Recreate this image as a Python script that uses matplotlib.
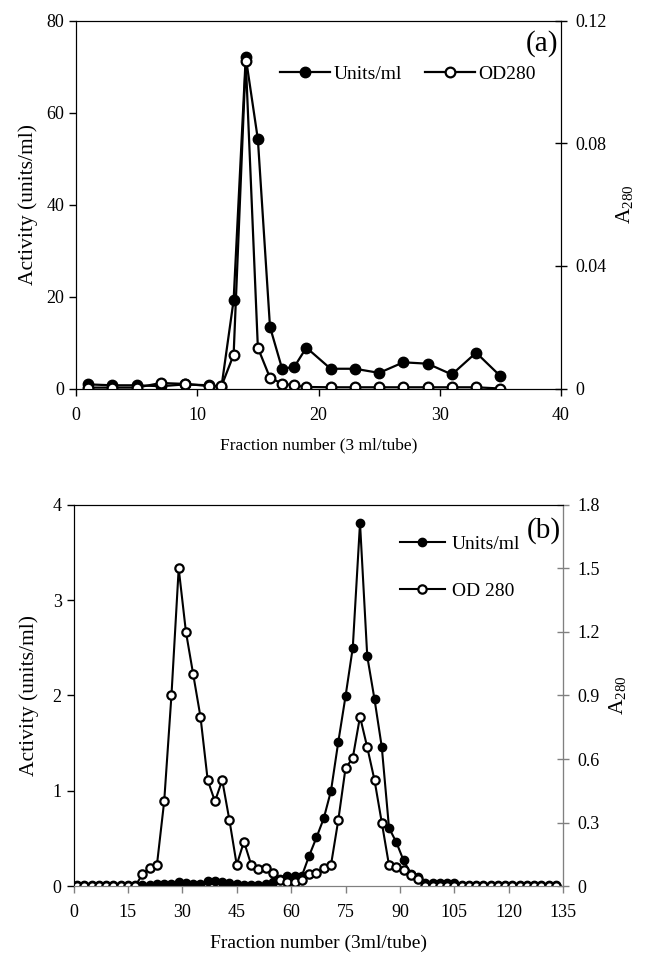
import matplotlib
matplotlib.use("Agg")
import matplotlib.pyplot as plt
import numpy as np

plt.rcParams['font.family'] = ['Liberation Serif', 'DejaVu Serif']
plt.rcParams['mathtext.fontset'] = 'custom'
plt.rcParams['mathtext.rm'] = 'Liberation Serif'

# ---------- Panel (a) data ----------
a_frac = [1, 3, 5, 7, 9, 11, 12, 13, 14, 15, 16, 17, 18, 19, 21, 23, 25, 27, 29, 31, 33, 35]
a_units = [0.9, 0.7, 0.7, 0.5, 0.9, 0.7, 0.4, 19.2, 72.1, 54.2, 13.4, 4.3, 4.7, 8.9,
           4.3, 4.3, 3.4, 5.7, 5.4, 3.05, 7.8, 2.7]
a_od = [0.0003, 0.0003, 0.0003, 0.0018, 0.0015, 0.0008, 0.0008, 0.011, 0.107, 0.0133,
        0.0035, 0.0016, 0.0010, 0.0005, 0.0004, 0.0004, 0.0004, 0.0004, 0.0004, 0.0004,
        0.0004, 0.0]
a_xticks = [0, 10, 20, 30, 40]
a_yticks = [0, 20, 40, 60, 80]
a_y2ticks = [0, 0.04, 0.08, 0.12]
a_y2labels = ['0', '0.04', '0.08', '0.12']

# ---------- Panel (b) data ----------
b_frac = list(range(1, 134, 2))
b_units = ([0.01] * 9 +                        # 1-17
           [0.01, 0.01, 0.02, 0.02, 0.02,       # 19-27
            0.04, 0.03, 0.02, 0.02, 0.05, 0.05, 0.04, 0.03, 0.02,  # 29-45
            0.01, 0.01, 0.01, 0.02, 0.04, 0.07, 0.10, 0.11, 0.11,  # 47-63
            0.32, 0.51, 0.71, 1.0, 1.51, 1.99, 2.5, 3.81, 2.41,    # 65-81
            1.96, 1.46, 0.61, 0.46, 0.27, 0.13, 0.095,              # 83-95
            0.03, 0.03, 0.03, 0.03, 0.03] +                        # 97-105
           [0.01] * 14)                                             # 107-133
b_od = ([0.0] * 9 +                             # 1-17
        [0.055, 0.087, 0.10, 0.40, 0.90, 1.50, 1.20, 1.00, 0.80,  # 19-35
         0.50, 0.40, 0.50, 0.31, 0.10, 0.21, 0.10, 0.08, 0.087,   # 37-53
         0.063, 0.03, 0.02, 0.02, 0.03, 0.055, 0.063, 0.087, 0.10,  # 55-71
         0.31, 0.556, 0.605, 0.80, 0.655, 0.50, 0.30, 0.098, 0.09,  # 73-89
         0.074, 0.05, 0.035] +                                       # 91-95
        [0.0] * 19)                                                  # 97-133
b_xticks = list(range(0, 136, 15))
b_yticks = [0, 1, 2, 3, 4]
b_y2ticks = [0, 0.3, 0.6, 0.9, 1.2, 1.5, 1.8]
b_y2labels = ['0', '0.3', '0.6', '0.9', '1.2', '1.5', '1.8']

FS = 13
YFS = 15.5
LFS = 14

fig = plt.figure(figsize=(6.45, 9.56), dpi=100)

# ---------- Panel (a) ----------
ax = fig.add_axes([0.1178, 0.5936, 0.752, 0.3847])
ax2 = ax.twinx()
l1, = ax.plot(a_frac, a_units, '-', color='black', lw=1.6, marker='o', ms=7.5,
              mfc='black', mec='black', label='Units/ml', zorder=3)
l2, = ax2.plot(a_frac, a_od, '-', color='black', lw=1.6, marker='o', ms=7,
               mfc='white', mec='black', mew=1.6, label='OD280', zorder=2)
ax.set_xlim(0, 40)
ax.set_ylim(0, 80)
ax2.set_ylim(0, 0.12)
ax.set_xticks(a_xticks)
ax.set_yticks(a_yticks)
ax2.set_yticks(a_y2ticks)
ax2.set_yticklabels(a_y2labels)
ax.set_xlabel('Fraction number (3 ml/tube)', fontsize=12.5, labelpad=10)
ax.set_ylabel('Activity (units/ml)', fontsize=YFS, labelpad=6)
ax2.set_ylabel('A$_{280}$', fontsize=YFS, labelpad=6)
ax.tick_params(axis='both', labelsize=FS, direction='out', length=5, width=1)
ax.tick_params(axis='x', pad=8)
ax2.tick_params(axis='y', labelsize=FS, direction='inout', length=8, width=1, pad=6)
ax.text(0.995, 0.939, '(a)', transform=ax.transAxes, fontsize=21, ha='right', va='center')
ax.legend(handles=[l1, l2], loc='center left', bbox_to_anchor=(0.42, 0.855), ncol=2,
          frameon=False, fontsize=LFS, handlelength=2.6, handletextpad=0.15,
          columnspacing=1.2, borderaxespad=0, borderpad=0)

# ---------- Panel (b) ----------
bx = fig.add_axes([0.114, 0.0732, 0.759, 0.3986])
bx2 = bx.twinx()
m1, = bx.plot(b_frac, b_units, '-', color='black', lw=1.5, marker='o', ms=6,
              mfc='black', mec='black', label='Units/ml', zorder=3)
m2, = bx2.plot(b_frac, b_od, '-', color='black', lw=1.5, marker='o', ms=6,
               mfc='white', mec='black', mew=1.6, label='OD 280', zorder=2)
bx.set_xlim(0, 135)
bx.set_ylim(0, 4)
bx2.set_ylim(0, 1.8)
bx.set_xticks(b_xticks)
bx.set_yticks(b_yticks)
bx2.set_yticks(b_y2ticks)
bx2.set_yticklabels(b_y2labels)
bx.set_xlabel('Fraction number (3ml/tube)', fontsize=14, labelpad=10)
bx.set_ylabel('Activity (units/ml)', fontsize=YFS, labelpad=10)
bx2.set_ylabel('A$_{280}$', fontsize=YFS, labelpad=6)
bx.tick_params(axis='both', labelsize=FS, direction='out', length=5, width=1)
bx.tick_params(axis='x', pad=8, color='#808080')
bx2.tick_params(axis='y', labelsize=FS, direction='inout', length=8, width=1, pad=6,
                color='#808080')
for s in (bx2.spines['right'], bx2.spines['bottom'], bx.spines['bottom']):
    s.set_color('#808080')
bx.text(0.995, 0.934, '(b)', transform=bx.transAxes, fontsize=21, ha='right', va='center')
bx.legend(handles=[m1, m2], loc='center left', bbox_to_anchor=(0.667, 0.836), ncol=1,
          frameon=False, fontsize=LFS, handlelength=2.3, handletextpad=0.35,
          labelspacing=1.5, borderaxespad=0, borderpad=0)

fig.savefig('out.png', dpi=100)
